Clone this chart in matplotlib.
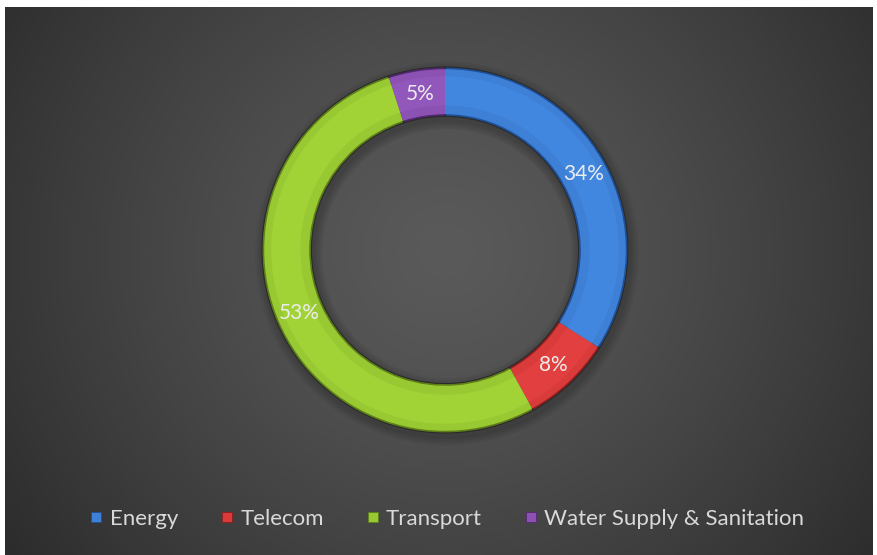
import numpy as np
import matplotlib
matplotlib.use("Agg")
import matplotlib.pyplot as plt
from matplotlib.lines import Line2D

categories = ["Energy", "Telecom", "Transport", "Water Supply & Sanitation"]
shares = [34, 8, 53, 5]
colors = ["#3d80d6", "#d93b3b", "#99c932", "#8b52b3"]
edge_colors = ["#1f4f96", "#8c1f1f", "#5e7f18", "#52286e"]

plt.rcParams["font.family"] = ["Lato", "DejaVu Sans"]

W, H, DPI = 877, 555, 100
fig = plt.figure(figsize=(W / DPI, H / DPI), dpi=DPI, facecolor="white")

# Radial gradient background panel (leaves thin white margin at top and left)
left_px, top_px, right_px = 5, 7, 873
bg = fig.add_axes([left_px / W, 0, (right_px - left_px) / W, (H - top_px) / H])
ny, nx = 300, 480
yy, xx = np.mgrid[0:ny, 0:nx]
cx, cy = nx * (445 - left_px) / (right_px - left_px), ny * (250 - top_px) / (H - top_px)
d = np.sqrt(((xx - cx) / (nx * 0.62)) ** 2 + ((yy - cy) / (ny * 0.95)) ** 2)
d = np.clip(d, 0, 1)
inner, outer = 0x5a / 255, 0x2c / 255
val = inner + (outer - inner) * d ** 1.3
bg.imshow(np.dstack([val, val, val]), aspect="auto", extent=[0, 1, 0, 1])
bg.set_axis_off()

# Donut chart
R = 183
ax = fig.add_axes([(445 - R - 2) / W, (H - 250 - R - 2) / H, (2 * R + 4) / W, (2 * R + 4) / H])
ax.patch.set_alpha(0)

scale = R / (R + 2)
outer_r = 1.0 * scale
width = 0.27 * scale

# soft shadow under the ring
for k in range(4):
    ax.pie([1], radius=outer_r + 0.012 * (k + 1), colors=["black"],
           wedgeprops=dict(width=width + 0.024 * (k + 1), linewidth=0, alpha=0.05),
           center=(0.01, -0.02))

# base ring with darker bevel colors
ax.pie(shares, radius=outer_r, colors=edge_colors, startangle=90, counterclock=False,
       wedgeprops=dict(width=width, edgecolor="#2a2a2a", linewidth=0.8))
# main colour band
ax.pie(shares, radius=outer_r - 0.012, colors=colors, startangle=90, counterclock=False,
       wedgeprops=dict(width=width - 0.024, linewidth=0))
# highlight band for a raised look
light = [matplotlib.colors.to_rgb(c) for c in colors]
light = [tuple(min(1, v * 1.06 + 0.025) for v in c) for c in light]
ax.pie(shares, radius=outer_r - 0.05, colors=light, startangle=90, counterclock=False,
       wedgeprops=dict(width=width - 0.11, linewidth=0, alpha=0.5))

ax.set_xlim(-1.0, 1.0)
ax.set_ylim(-1.0, 1.0)
ax.set_aspect("equal")
ax.set_axis_off()

# percentage labels at mid-ring
mid_r = outer_r - width / 2
start = 90.0
for s in shares:
    theta = np.deg2rad(start - s * 3.6 / 2)
    ax.text(mid_r * np.cos(theta), mid_r * np.sin(theta), f"{s}%",
            ha="center", va="center", color="#ececec", fontsize=15)
    start -= s * 3.6

# Legend
handles = [Line2D([0], [0], marker="s", linestyle="none", markersize=7,
                  markerfacecolor=c, markeredgecolor=e, markeredgewidth=0.6)
           for c, e in zip(colors, edge_colors)]
leg = fig.legend(handles, categories, loc="center", bbox_to_anchor=(447 / W, 1 - 519 / H),
                 ncol=4, frameon=False, fontsize=16, labelcolor="#d9d9d9",
                 handlelength=0.6, handletextpad=0.3, columnspacing=1.9)

fig.savefig("out.png", dpi=DPI, facecolor=fig.get_facecolor())
